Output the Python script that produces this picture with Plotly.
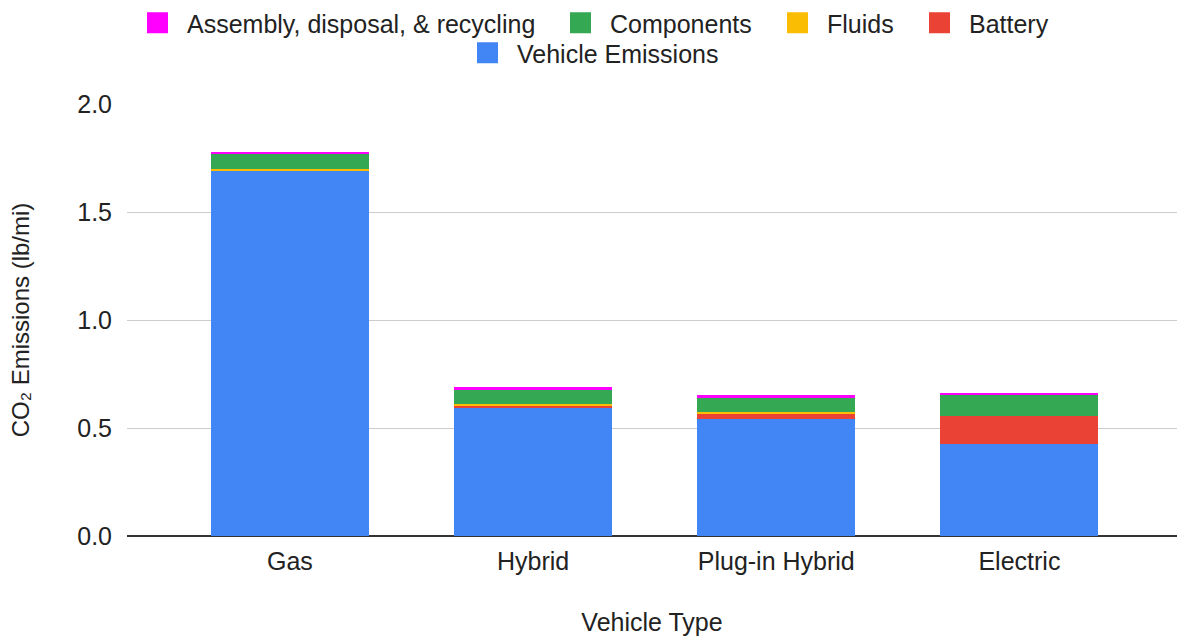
import plotly.graph_objects as go

categories = ["Gas", "Hybrid", "Plug-in Hybrid", "Electric"]
vehicle_emissions = [1.692, 0.591, 0.543, 0.426]
battery = [0.0, 0.011, 0.022, 0.130]
fluids = [0.007, 0.008, 0.009, 0.0]
components = [0.072, 0.066, 0.065, 0.097]
assembly = [0.009, 0.012, 0.012, 0.009]

series_names = ["Vehicle Emissions", "Battery", "Fluids", "Components",
                "Assembly, disposal, & recycling"]
series_values = [vehicle_emissions, battery, fluids, components, assembly]
series_colors = ["#4285F4", "#EA4335", "#FBBC04", "#34A853", "#FF00FF"]

# legend layout: pixel centre of each swatch, and top of each legend row
legend_ids = ["legend5", "legend4", "legend3", "legend2", "legend"]
legend_swatch_x = [487.5, 939.5, 797.5, 580.5, 157.5]
legend_row_top = [30, 0, 0, 0, 0]

font_family = "Liberation Sans, Arial, sans-serif"
text_color = "#222222"
W, H = 1177, 638
ITEM_W = 49
SWATCH_OFF = ITEM_W / 2 + 5

fig = go.Figure()
for name, vals, color, leg in zip(series_names, series_values, series_colors, legend_ids):
    fig.add_trace(go.Bar(
        x=categories, y=vals, name=name,
        marker=dict(color=color, line=dict(width=0)),
        showlegend=False,
    ))
    fig.add_trace(go.Scatter(
        x=[None], y=[None], mode="markers", name=name, legend=leg,
        marker=dict(symbol="square", size=22, color=color, line=dict(color=color, width=6)),
    ))

legends = {}
for leg, sx, ry in zip(legend_ids, legend_swatch_x, legend_row_top):
    legends[leg] = dict(
        orientation="h", xref="container", yref="container",
        x=(sx - SWATCH_OFF) / W, xanchor="left",
        y=1 - ry / H, yanchor="top",
        itemwidth=ITEM_W, bgcolor="rgba(0,0,0,0)",
        font=dict(size=25, color=text_color),
    )

fig.update_layout(
    width=W, height=H,
    barmode="stack", bargap=0.35,
    plot_bgcolor="white", paper_bgcolor="white",
    margin=dict(l=127, r=0, t=104, b=102),
    font=dict(family=font_family, size=25, color=text_color),
    xaxis=dict(
        range=[-0.670, 3.648], showgrid=False, showline=False, zeroline=False,
        ticks="", ticklabelstandoff=8, automargin=False,
        tickfont=dict(size=25, color=text_color),
        title=dict(text="Vehicle Type", font=dict(size=25, color=text_color), standoff=39),
    ),
    yaxis=dict(
        range=[0, 2.0], dtick=0.5, tickformat=".1f", automargin=False,
        showgrid=True, gridcolor="#CCCCCC", gridwidth=1,
        zeroline=True, zerolinecolor="#333333", zerolinewidth=1.5,
        showline=False, ticks="", ticklabelstandoff=14,
        tickfont=dict(size=25, color=text_color),
        title=dict(text="CO₂ Emissions (lb/mi)", font=dict(size=24, color=text_color), standoff=40),
    ),
    **legends,
)

fig.write_html("out.html", config={"displayModeBar": False},
               post_script="document.body.style.margin='0px';")
